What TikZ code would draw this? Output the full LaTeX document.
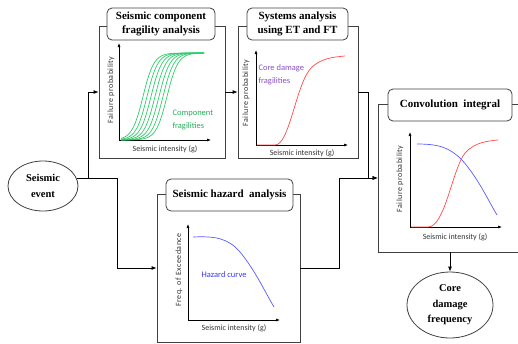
\documentclass[tikz,border=0pt]{standalone}
\usepackage{fontspec}
\setmainfont{Liberation Serif}
\newfontfamily\labfont{Carlito}
\newfontfamily\spacedfont[LetterSpace=6]{Carlito}
\usepackage{tikz}
\usetikzlibrary{arrows.meta,shapes.geometric,positioning}
\definecolor{linegray}{HTML}{404040}
\definecolor{fraggreen}{HTML}{2ECC6A}
\definecolor{cdred}{HTML}{FF4B4B}
\definecolor{hazblue}{HTML}{5A5AFF}
\definecolor{cdpurple}{HTML}{8A4FC8}
\definecolor{hazlabel}{HTML}{3838F0}
\tikzset{
  panel/.style={draw=linegray,line width=0.8pt,inner sep=0pt},
  titlebox/.style={draw=linegray,fill=white,rounded corners=5pt,line width=0.8pt,align=center,inner sep=0pt,font=\bfseries\fontsize{11}{14.5}\selectfont},
  event/.style={ellipse,draw=linegray,line width=0.8pt,align=center,inner sep=0pt,font=\bfseries\fontsize{10.5}{15.5}\selectfont},
  flow/.style={-{Latex[length=5pt,width=4pt]},black,line width=0.8pt},
  axis/.style={-{Latex[length=4pt,width=3pt]},black,line width=0.6pt},
  axlabel/.style={font=\labfont\fontsize{8}{9}\selectfont,text=black!80},
  ylabel/.style={font=\spacedfont\fontsize{8}{9}\selectfont,text=black!80,rotate=90},
  curvelabel/.style={font=\labfont\fontsize{8.5}{12.5}\selectfont,align=left,anchor=west},
  fragcurve/.style={fraggreen,line width=0.7pt},
  cdcurve/.style={cdred,line width=0.7pt},
  hazcurve/.style={hazblue,line width=0.7pt}
}

\begin{document}
\begin{tikzpicture}[x=1pt,y=-1pt]
\useasboundingbox (0,0) rectangle (518,343);
\clip (0,0) rectangle (518,343);
% frames
\node[panel,minimum width=126pt,minimum height=132pt] (frag) at (162,92) {};
\node[panel,minimum width=120pt,minimum height=132pt] (sys) at (298,92) {};
\node[panel,minimum width=143pt,minimum height=148pt] (haz) at (228.5,268) {};
\node[panel,minimum width=146pt,minimum height=148pt] (conv) at (451,178) {};
% titles
\node[titlebox,minimum width=108pt,minimum height=32pt] (fragtitle) at (161,24) {Seismic component\\fragility analysis};
\node[titlebox,minimum width=101pt,minimum height=32pt] (systitle) at (297.5,24) {Systems analysis\\using ET and FT};
\node[titlebox,minimum width=127pt,minimum height=32pt] (haztitle) at (229.5,195) {Seismic hazard~ analysis};
\node[titlebox,minimum width=124pt,minimum height=32pt] (convtitle) at (450,105) {Convolution~ integral};
% start and end
\node[event,minimum width=70pt,minimum height=50pt] (event) at (43,186) {Seismic\\event};
\node[event,minimum width=86pt,minimum height=66pt] (cdf) at (450,305) {Core\\damage\\frequency};
% panel 1 component fragilities
\draw[axis] (119,140) -- (119,43);
\draw[axis] (119,140) -- (211,140);
\foreach \c in {143,147,...,167}{\draw[fragcurve] plot[domain=121:204,samples=45,smooth] (\x,{140-87/(1+exp(-(\x-\c)/5.5))});}
\node[ylabel] (fragy) at (111,90) {Failure probability};
\node[axlabel] (fragx) at (165,149) {Seismic intensity (g)};
\node[curvelabel,text=fraggreen!85!black] (fraglab) at (169,120) {Component\\fragilities};
% panel 2 systems analysis
\draw[axis] (256,145) -- (256,50);
\draw[axis] (256,145) -- (348,145);
\draw[cdcurve] (257,145) -- (275,145) .. controls (290,145) and (296,82) .. (312,67) .. controls (322,58) and (334,57) .. (345,56);
\node[ylabel] (sysy) at (246,93) {Failure probability};
\node[axlabel] (sysx) at (302,153) {Seismic intensity (g)};
\node[curvelabel,text=cdpurple] (syslab) at (255,75) {Core damage\\fragilities};
% panel 3 hazard
\draw[axis] (188,320) -- (188,224);
\draw[axis] (188,320) -- (280,320);
\draw[hazcurve] (193,237) .. controls (215,236) and (228,238) .. (240,252) .. controls (255,270) and (265,292) .. (274,307);
\node[ylabel] (hazy) at (179,270) {Freq. of Exceedance};
\node[axlabel] (hazx) at (234,328) {Seismic intensity (g)};
\node[curvelabel,text=hazlabel,anchor=center] (hazlab) at (224,275) {Hazard curve};
% panel 4 convolution
\draw[axis] (410,227) -- (410,132);
\draw[axis] (410,227) -- (502,227);
\draw[hazcurve] (417,144) .. controls (440,144) and (450,148) .. (462,160) .. controls (478,178) and (488,200) .. (497,215);
\draw[cdcurve] (411,227) -- (428,227) .. controls (445,227) and (452,170) .. (465,153) .. controls (475,142) and (488,141) .. (498,140);
\node[ylabel] (convy) at (400,179) {Failure probability};
\node[axlabel] (convx) at (455,237) {Seismic intensity (g)};
% flow
\coordinate (branch) at (88,0);
\coordinate (bend) at (117,0);
\draw[flow] (event.12) -- (event.12 -| bend) |- (haz.west);
\draw[flow] (event.12 -| branch) |- (frag.west);
\draw[flow] (frag) -- (sys);
\draw[flow] (sys.east) -- ++(10,0) |- (conv.west);
\draw[flow] (haz.east) -- ++(39,0) |- (conv.west);
\draw[flow] (conv.south -| cdf.north) -- (cdf.north);
\end{tikzpicture}
\end{document}
